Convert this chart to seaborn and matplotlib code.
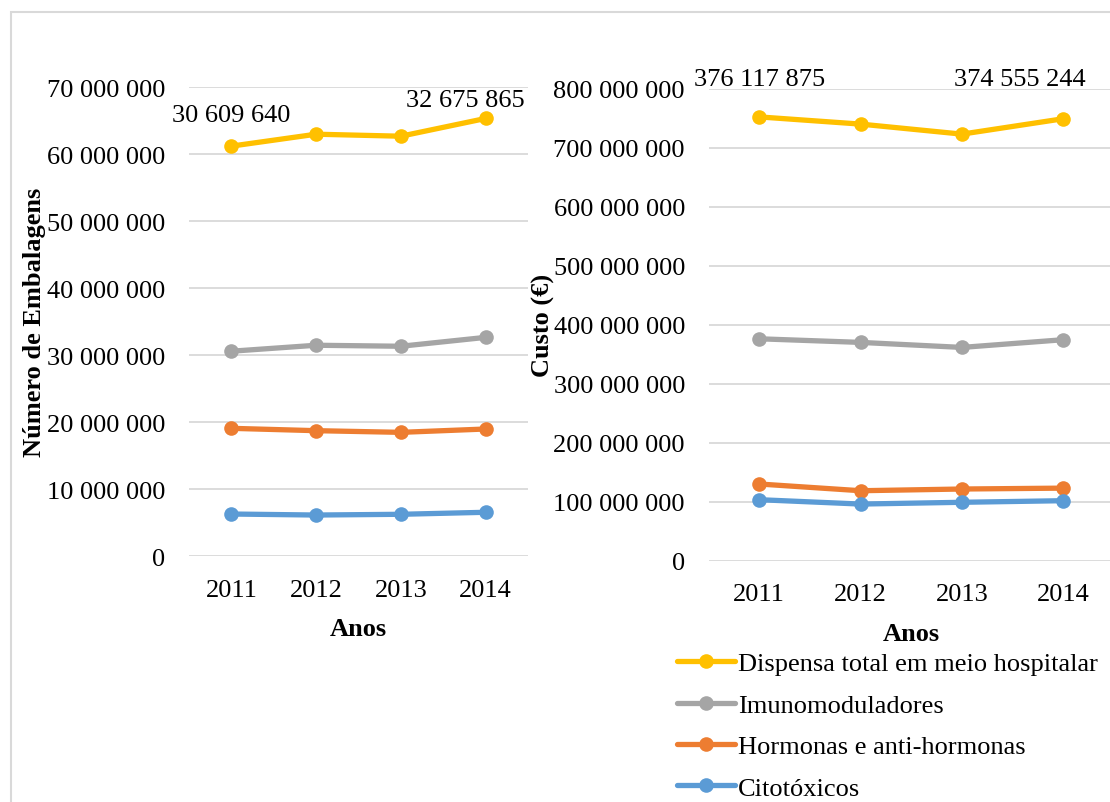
import numpy as np
import pandas as pd
import matplotlib
matplotlib.use("Agg")
import matplotlib.pyplot as plt
from matplotlib.patches import Rectangle
from matplotlib.ticker import FuncFormatter
import seaborn as sns

# ---------------- data ----------------
anos = [2011, 2012, 2013, 2014]
series = ["Dispensa total em meio hospitalar", "Imunomoduladores",
          "Hormonas e anti-hormonas", "Citotóxicos"]
cores = ["#FFC000", "#A5A5A5", "#ED7D31", "#5B9BD5"]

emb_dispensa = [61220000, 63000000, 62700000, 65350000]
emb_imuno = [30609640, 31500000, 31350000, 32675865]
emb_hormonas = [19100000, 18750000, 18500000, 19000000]
emb_citotox = [6310000, 6160000, 6270000, 6570000]

custo_dispensa = [752200000, 740000000, 723000000, 749100000]
custo_imuno = [376117875, 370000000, 361500000, 374555244]
custo_hormonas = [130000000, 118600000, 121500000, 123000000]
custo_citotox = [103400000, 96000000, 99000000, 101700000]

y_label_esq = "Número de Embalagens"
y_label_dir = "Custo (€)"
x_label = "Anos"


def longo(vals_list):
    rows = []
    for s, vals in zip(series, vals_list):
        for a, v in zip(anos, vals):
            rows.append({"Ano": a, "Valor": v, "Série": s})
    return pd.DataFrame(rows)


df_esq = longo([emb_dispensa, emb_imuno, emb_hormonas, emb_citotox])
df_dir = longo([custo_dispensa, custo_imuno, custo_hormonas, custo_citotox])

# ---------------- style ----------------
sns.set_theme(style="white")
plt.rcParams["font.family"] = ["Liberation Serif", "DejaVu Serif"]
plt.rcParams["text.color"] = "black"
plt.rcParams["axes.labelcolor"] = "black"
FS = 19

W, H = 1110, 803
fig = plt.figure(figsize=(W / 100, H / 100), dpi=100)
fig.patch.set_facecolor("white")

# chart border
fig.patches.append(Rectangle((11 / W, -0.05), 1.2, 1.05 - 13 / H,
                             transform=fig.transFigure, fill=False,
                             edgecolor="#D9D9D9", linewidth=1.5, zorder=0))

ax1 = fig.add_axes([189 / W, 1 - 557.3 / H, (528 - 189) / W, (557.3 - 88.3) / H])
ax2 = fig.add_axes([708.5 / W, 1 - 561.7 / H, 405.5 / W, (561.7 - 89.7) / H])

fmt = FuncFormatter(lambda v, p: f"{int(round(v)):,}".replace(",", " "))

for ax, df, ymax, step in [(ax1, df_esq, 70e6, 10e6), (ax2, df_dir, 800e6, 100e6)]:
    sns.lineplot(data=df, x="Ano", y="Valor", hue="Série", hue_order=series,
                 palette=cores, marker="o", markersize=10.5, markeredgewidth=0,
                 linewidth=3.8, ax=ax, legend=(ax is ax2), zorder=3)
    ax.set_xlim(2010.5, 2014.5)
    ax.set_ylim(0, ymax)
    ax.set_xticks(anos)
    ax.set_xticklabels([str(a) for a in anos])
    ax.set_yticks(np.arange(0, ymax + 1, step))
    ax.yaxis.set_major_formatter(fmt)
    ax.grid(axis="y", color="#D9D9D9", linewidth=1.3)
    ax.grid(axis="x", visible=False)
    for sp in ax.spines.values():
        sp.set_visible(False)
    ax.tick_params(axis="both", length=0, labelsize=FS, colors="black")
    ax.tick_params(axis="x", pad=16)
    ax.tick_params(axis="y", pad=17)
    ax.set_xlabel(x_label, fontsize=FS, fontweight="bold", labelpad=12, color="black")
    ax.set_facecolor("none")

ax1.set_ylabel(y_label_esq, fontsize=FS, fontweight="bold", color="black")
ax1.yaxis.set_label_coords((46 - 189) / 339, 0.5)
ax2.set_ylabel(y_label_dir, fontsize=FS, fontweight="bold", color="black")
ax2.yaxis.set_label_coords((555 - 708.5) / 405.5, 0.5)


def rotulo(v):
    return f"{v:,}".replace(",", " ")


# data labels
ax1.annotate(rotulo(emb_imuno[0]), (anos[0], emb_dispensa[0]), xytext=(0, 31),
             textcoords="offset pixels", ha="center", va="center", fontsize=FS)
ax1.annotate(rotulo(emb_imuno[3]), (anos[3], emb_dispensa[3]), xytext=(-20, 18),
             textcoords="offset pixels", ha="center", va="center", fontsize=FS)
ax2.annotate(rotulo(custo_imuno[0]), (anos[0], custo_dispensa[0]), xytext=(0, 38),
             textcoords="offset pixels", ha="center", va="center", fontsize=FS)
ax2.annotate(rotulo(custo_imuno[3]), (anos[3], custo_dispensa[3]), xytext=(-44, 40),
             textcoords="offset pixels", ha="center", va="center", fontsize=FS)

# legend
handles, labels = ax2.get_legend_handles_labels()
ax2.get_legend().remove()
leg = fig.legend(handles, labels, loc="upper left",
                 bbox_to_anchor=(677 / W, 1 - 653 / H), bbox_transform=fig.transFigure,
                 frameon=False, fontsize=FS, handlelength=2.2, handletextpad=0.1,
                 labelspacing=0.68, borderpad=0, borderaxespad=0)
for h in leg.legend_handles:
    h.set_linewidth(3.8)
    h.set_markersize(10.5)

fig.savefig("out.png", dpi=100, facecolor="white")
